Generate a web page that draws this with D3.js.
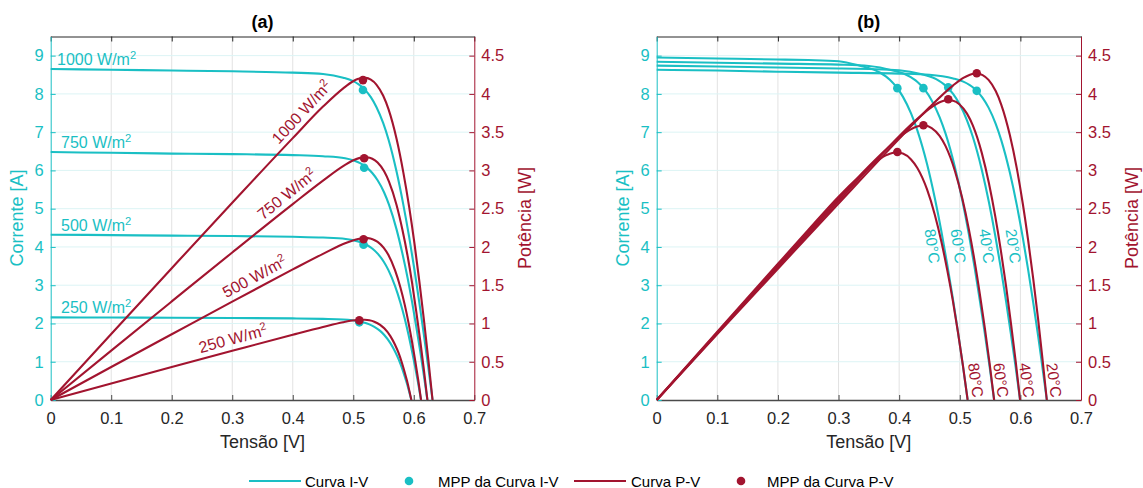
<!DOCTYPE html>
<html><head><meta charset="utf-8">
<script src="https://cdn.jsdelivr.net/npm/d3@7"></script>
<style>body{margin:0;background:#fff}text{font-family:"Liberation Sans",Arial,Helvetica,sans-serif}</style>
</head><body><svg id="c" width="1143" height="488"></svg>
<script>
// ---------- tick labels / categories ----------
const xTicks = [0, 0.1, 0.2, 0.3, 0.4, 0.5, 0.6, 0.7];
const iTicks = [0, 1, 2, 3, 4, 5, 6, 7, 8, 9];
const pTicks = [0, 0.5, 1, 1.5, 2, 2.5, 3, 3.5, 4, 4.5];
const irrLabels = ["1000 W/m", "750 W/m", "500 W/m", "250 W/m"];
const tempLabels = ["20°C", "40°C", "60°C", "80°C"];
const legendLabels = ["Curva I-V", "MPP da Curva I-V", "Curva P-V", "MPP da Curva P-V"];

// ---------- panel (a): irradiance ----------
const aV1000 = [0,0.1,0.2,0.3,0.4,0.45,0.4834,0.499,0.5084,0.5153,0.5206,0.529,0.5382,0.5495,0.5582,0.5717,0.5827,0.5924,0.6011,0.6091,0.6167,0.624,0.631];
const aI1000 = [8.65,8.63,8.61,8.59,8.555,8.52,8.425,8.34,8.255,8.17,8.085,7.914,7.659,7.234,6.808,5.957,5.106,4.255,3.404,2.553,1.702,0.851,0];
const aP1000 = [0,0.863,1.722,2.577,3.422,3.834,4.073,4.162,4.197,4.21,4.209,4.186,4.122,3.975,3.8,3.406,2.975,2.521,2.046,1.555,1.05,0.531,0];

const aV750 = [0,0.1,0.2,0.3,0.4,0.45,0.4865,0.502,0.5113,0.518,0.5233,0.5314,0.5402,0.551,0.559,0.5714,0.5812,0.5898,0.5973,0.6041,0.6106,0.6167,0.6225];
const aI750 = [6.48,6.46,6.44,6.425,6.4,6.37,6.316,6.252,6.189,6.125,6.061,5.933,5.742,5.423,5.104,4.466,3.828,3.19,2.552,1.914,1.276,0.638,0];
const aP750 = [0,0.646,1.288,1.928,2.56,2.867,3.073,3.139,3.164,3.173,3.172,3.153,3.102,2.988,2.853,2.552,2.225,1.881,1.524,1.156,0.779,0.393,0];

const aV500 = [0,0.1,0.2,0.3,0.4,0.45,0.4876,0.503,0.5121,0.5188,0.5239,0.5318,0.5403,0.5504,0.5579,0.5691,0.5778,0.5851,0.5914,0.5971,0.6024,0.6074,0.612];
const aI500 = [4.32,4.31,4.295,4.285,4.265,4.245,4.2075,4.165,4.1225,4.08,4.0375,3.9525,3.825,3.6125,3.4,2.975,2.55,2.125,1.7,1.275,0.85,0.425,0];
const aP500 = [0,0.431,0.859,1.286,1.706,1.91,2.052,2.095,2.111,2.117,2.115,2.102,2.067,1.988,1.897,1.693,1.473,1.243,1.005,0.761,0.512,0.258,0];

const aV250 = [0,0.1,0.2,0.3,0.4,0.45,0.4831,0.4984,0.5075,0.514,0.519,0.5266,0.5348,0.5444,0.5512,0.5613,0.5688,0.575,0.5801,0.5846,0.5888,0.5925,0.596];
const aI250 = [2.16,2.155,2.15,2.143,2.133,2.12,2.104,2.0825,2.061,2.04,2.019,1.976,1.9125,1.806,1.7,1.4875,1.275,1.0625,0.85,0.6375,0.425,0.2125,0];
const aP250 = [0,0.2155,0.43,0.643,0.853,0.954,1.016,1.038,1.046,1.049,1.048,1.041,1.023,0.983,0.937,0.835,0.725,0.611,0.493,0.373,0.25,0.126,0];

const mppA_V = [0.516, 0.518, 0.517, 0.510];
const mppA_I = [8.10, 6.07, 4.06, 2.03];
const mppA_P = [4.18, 3.16, 2.10, 1.04];

// annotation anchors (voltage where each label sits)
const aIvLabelV = [0.0104, 0.017, 0.017, 0.017];
const aPvLabelV = [0.4286, 0.402, 0.346, 0.306];

// ---------- panel (b): temperature ----------
const bV20 = [0,0.1,0.2,0.3,0.4,0.45,0.4892,0.5059,0.5159,0.5232,0.5288,0.5377,0.5475,0.5593,0.5684,0.5826,0.5941,0.604,0.6129,0.6212,0.6291,0.6364,0.6436];
const bI20 = [8.63,8.61,8.58,8.555,8.53,8.5,8.405,8.32,8.235,8.15,8.066,7.896,7.641,7.217,6.792,5.943,5.094,4.245,3.396,2.547,1.698,0.849,0];
const bP20 = [0,0.861,1.716,2.567,3.412,3.825,4.112,4.209,4.248,4.264,4.265,4.246,4.183,4.037,3.861,3.462,3.026,2.564,2.081,1.582,1.068,0.54,0];

const bV40 = [0,0.1,0.2,0.3,0.35,0.4,0.4376,0.4553,0.4659,0.4736,0.4797,0.489,0.4993,0.5119,0.5215,0.5363,0.5482,0.5585,0.5678,0.5764,0.5844,0.5922,0.5995];
const bI40 = [8.74,8.715,8.69,8.665,8.65,8.62,8.514,8.428,8.342,8.256,8.17,7.998,7.74,7.31,6.88,6.02,5.16,4.3,3.44,2.58,1.72,0.86,0];
const bP40 = [0,0.872,1.738,2.6,3.028,3.448,3.726,3.837,3.887,3.91,3.919,3.911,3.865,3.742,3.588,3.229,2.829,2.402,1.953,1.487,1.005,0.509,0];

const bV60 = [0,0.1,0.2,0.3,0.35,0.3896,0.4081,0.4191,0.4271,0.4333,0.4431,0.4537,0.4667,0.4766,0.4919,0.5042,0.5148,0.5243,0.533,0.5413,0.5492,0.5567];
const bI60 = [8.84,8.815,8.79,8.765,8.73,8.613,8.526,8.439,8.352,8.265,8.091,7.83,7.395,6.96,6.09,5.22,4.35,3.48,2.61,1.74,0.87,0];
const bP60 = [0,0.882,1.758,2.63,3.056,3.356,3.48,3.537,3.567,3.581,3.585,3.553,3.451,3.317,2.996,2.632,2.239,1.825,1.391,0.942,0.478,0];

const bV80 = [0,0.1,0.2,0.25,0.3,0.3384,0.3579,0.3696,0.378,0.3846,0.3948,0.4061,0.4196,0.43,0.446,0.4587,0.4697,0.4795,0.4887,0.4972,0.5053,0.513];
const bI80 = [8.95,8.925,8.9,8.885,8.855,8.722,8.634,8.546,8.458,8.37,8.193,7.929,7.489,7.048,6.167,5.286,4.405,3.524,2.643,1.762,0.881,0];
const bP80 = [0,0.893,1.78,2.221,2.657,2.952,3.09,3.159,3.197,3.219,3.235,3.22,3.142,3.031,2.751,2.425,2.069,1.69,1.292,0.876,0.445,0];

const mppB_V = [0.528, 0.481, 0.44, 0.397];
const mppB_I = [8.08, 8.17, 8.15, 8.15];
const mppB_P = [4.27, 3.93, 3.59, 3.24];

// annotation anchors for temperature labels (V, I) for I-V and (V, P) for P-V
const bIvLabelV = [0.5884, 0.5446, 0.4977, 0.4548];
const bIvLabelI = [4.02, 4.02, 4.02, 4.02];
const bPvLabelV = [0.6558, 0.6108, 0.5680, 0.5264];
const bPvLabelP = [0.26, 0.26, 0.26, 0.26];

// ---------- drawing ----------
const cyan = "#1ABFC4", red = "#A2142F", dark = "#262626";
const svg = d3.select("#c");
const FONT = '"Liberation Sans",Arial,Helvetica,sans-serif';

function makePanel(left, right, title) {
  const x = d3.scaleLinear().domain([0, 0.7]).range([left, right]);
  const yI = d3.scaleLinear().domain([0, 9.5]).range([400, 36.5]);
  const yP = d3.scaleLinear().domain([0, 4.75]).range([400, 36.5]);
  const g = svg.append("g");

  // grid
  g.append("g").selectAll("line").data(xTicks.slice(1, -1)).join("line")
    .attr("x1", d => x(d)).attr("x2", d => x(d)).attr("y1", yI(0)).attr("y2", yI(9.5))
    .attr("stroke", "#e2e2e2").attr("stroke-width", 1);
  g.append("g").selectAll("line").data(iTicks.slice(1)).join("line")
    .attr("x1", x(0)).attr("x2", x(0.7)).attr("y1", d => yI(d)).attr("y2", d => yI(d))
    .attr("stroke", "#dcf4f5").attr("stroke-width", 1);

  // top border with inward ticks
  const top = g.append("g").attr("transform", `translate(0,${yI(9.5)})`)
    .call(d3.axisTop(x).tickValues(xTicks).tickSize(-5).tickSizeOuter(0).tickFormat(""));
  top.attr("color", dark);

  // bottom axis
  const bot = g.append("g").attr("transform", `translate(0,${yI(0)})`)
    .call(d3.axisBottom(x).tickValues(xTicks).tickSize(-5).tickSizeOuter(0).tickPadding(12.5)
      .tickFormat(d => d3.format("")(+d.toFixed(1))));
  bot.attr("color", "#4a4a4a").attr("font-family", FONT).attr("font-size", 16.5);
  bot.select(".domain").attr("stroke-width", 1.4);
  bot.selectAll("text").attr("fill", dark);

  // left axis (current)
  const la = g.append("g").attr("transform", `translate(${x(0)},0)`)
    .call(d3.axisLeft(yI).tickValues(iTicks).tickSize(-5).tickSizeOuter(0).tickPadding(7));
  la.attr("color", cyan).attr("font-family", FONT).attr("font-size", 16.5);

  // right axis (power)
  const ra = g.append("g").attr("transform", `translate(${x(0.7)},0)`)
    .call(d3.axisRight(yP).tickValues(pTicks).tickSize(-5).tickSizeOuter(0).tickPadding(7)
      .tickFormat(d => String(d)));
  ra.attr("color", red).attr("font-family", FONT).attr("font-size", 16.5);

  // titles
  const cx = (x(0) + x(0.7)) / 2;
  g.append("text").attr("x", cx).attr("y", 28).attr("text-anchor", "middle")
    .attr("font-weight", "bold").attr("font-size", 18).attr("fill", "#000").text(title);
  g.append("text").attr("x", cx).attr("y", 448).attr("text-anchor", "middle")
    .attr("font-size", 18).attr("fill", dark).text("Tensão [V]");
  g.append("text").attr("transform", `translate(${x(0) - 34},218) rotate(-90)`)
    .attr("text-anchor", "middle").attr("dominant-baseline", "central")
    .attr("font-size", 18).attr("fill", cyan).text("Corrente [A]");
  g.append("text").attr("transform", `translate(${x(0.7) + 51},218) rotate(-90)`)
    .attr("text-anchor", "middle").attr("dominant-baseline", "central")
    .attr("font-size", 18).attr("fill", red).text("Potência [W]");

  return { g, x, yI, yP };
}

function drawCurves(p, Vs, Is, Ps, mV, mI, mP) {
  const lineI = d3.line().x(d => p.x(d[0])).y(d => p.yI(d[1])).curve(d3.curveMonotoneX);
  const lineP = d3.line().x(d => p.x(d[0])).y(d => p.yP(d[1])).curve(d3.curveMonotoneX);
  const ivData = Vs.map((v, k) => d3.zip(v, Is[k]));
  const pvData = Vs.map((v, k) => d3.zip(v, Ps[k]));
  p.g.append("g").selectAll("path").data(ivData).join("path")
    .attr("d", lineI).attr("fill", "none").attr("stroke", cyan).attr("stroke-width", 2.1);
  p.g.append("g").selectAll("circle").data(d3.zip(mV, mI)).join("circle")
    .attr("cx", d => p.x(d[0])).attr("cy", d => p.yI(d[1])).attr("r", 4.3).attr("fill", cyan);
  p.g.append("g").selectAll("path").data(pvData).join("path")
    .attr("d", lineP).attr("fill", "none").attr("stroke", red).attr("stroke-width", 2.1);
  p.g.append("g").selectAll("circle").data(d3.zip(mV, mP)).join("circle")
    .attr("cx", d => p.x(d[0])).attr("cy", d => p.yP(d[1])).attr("r", 4.3).attr("fill", red);
}

function interp(vs, ys, v) {
  const i = Math.max(1, d3.bisectLeft(vs, v));
  const t = (v - vs[i - 1]) / (vs[i] - vs[i - 1]);
  return ys[i - 1] + t * (ys[i] - ys[i - 1]);
}

function addUnitLabel(sel, txt, size) {
  sel.append("tspan").text(txt);
  sel.append("tspan").attr("dy", -6).attr("font-size", size * 0.7).text("2");
}

// ----- panel a -----
const pa = makePanel(50.7, 474.3, "(a)");
const aV = [aV1000, aV750, aV500, aV250];
const aI = [aI1000, aI750, aI500, aI250];
const aP = [aP1000, aP750, aP500, aP250];
drawCurves(pa, aV, aI, aP, mppA_V, mppA_I, mppA_P);

irrLabels.forEach((lab, k) => {
  const t = pa.g.append("text").attr("x", pa.x(aIvLabelV[k])).attr("y", pa.yI(aI[k][0]) - 4)
    .attr("font-size", 16).attr("fill", cyan);
  addUnitLabel(t, lab, 16);
  const v = aPvLabelV[k], pv = interp(aV[k], aP[k], v);
  const px = pa.x(v), py = pa.yP(pv);
  const ang = Math.atan2(pa.yP(interp(aV[k], aP[k], 0.4)) - pa.yP(0), pa.x(0.4) - pa.x(0)) * 180 / Math.PI;
  const t2 = pa.g.append("text").attr("transform", `translate(${px},${py}) rotate(${ang})`)
    .attr("text-anchor", "middle").attr("y", -6).attr("font-size", 16).attr("fill", red);
  t2.append("tspan").text(lab);
  t2.append("tspan").attr("dy", -6).attr("font-size", 11).text("2");
});

// ----- panel b -----
const pb = makePanel(656.7, 1081.0, "(b)");
drawCurves(pb, [bV20, bV40, bV60, bV80], [bI20, bI40, bI60, bI80], [bP20, bP40, bP60, bP80], mppB_V, mppB_I, mppB_P);
tempLabels.forEach((lab, k) => {
  pb.g.append("text")
    .attr("transform", `translate(${pb.x(bIvLabelV[k])},${pb.yI(bIvLabelI[k])}) rotate(82)`)
    .attr("text-anchor", "middle").attr("dominant-baseline", "central")
    .attr("font-size", 15.5).attr("fill", cyan).text(lab);
  pb.g.append("text")
    .attr("transform", `translate(${pb.x(bPvLabelV[k])},${pb.yP(bPvLabelP[k])}) rotate(82)`)
    .attr("text-anchor", "middle").attr("dominant-baseline", "central")
    .attr("font-size", 15.5).attr("fill", red).text(lab);
});

// ----- legend -----
const lg = svg.append("g").attr("font-size", 15).attr("fill", "#000");
const ly = 481;
lg.append("line").attr("x1", 249).attr("x2", 301).attr("y1", ly).attr("y2", ly).attr("stroke", cyan).attr("stroke-width", 2.1);
lg.append("text").attr("x", 305).attr("y", ly).attr("dominant-baseline", "central").text(legendLabels[0]);
lg.append("circle").attr("cx", 409).attr("cy", ly).attr("r", 4.3).attr("fill", cyan);
lg.append("text").attr("x", 438).attr("y", ly).attr("dominant-baseline", "central").text(legendLabels[1]);
lg.append("line").attr("x1", 574).attr("x2", 626).attr("y1", ly).attr("y2", ly).attr("stroke", red).attr("stroke-width", 2.1);
lg.append("text").attr("x", 631).attr("y", ly).attr("dominant-baseline", "central").text(legendLabels[2]);
lg.append("circle").attr("cx", 741).attr("cy", ly).attr("r", 4.3).attr("fill", red);
lg.append("text").attr("x", 767).attr("y", ly).attr("dominant-baseline", "central").text(legendLabels[3]);
</script>
</body></html>
